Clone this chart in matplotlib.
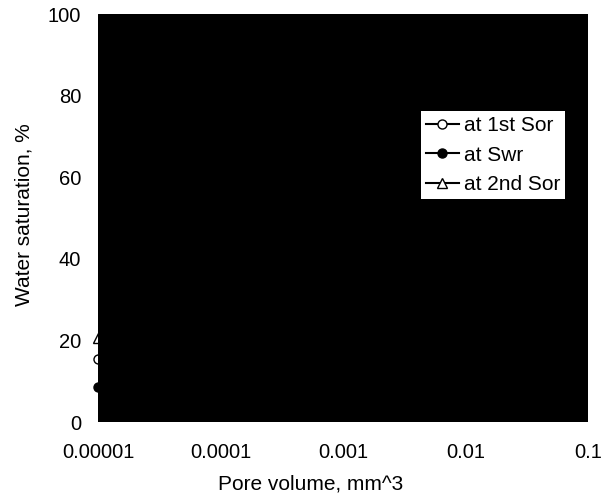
import matplotlib.pyplot as plt
from matplotlib.ticker import FixedLocator, NullLocator

plt.rcParams['font.family'] = ['Liberation Sans', 'DejaVu Sans']

# data: each series only has a point at the left edge of the axis
pore_volume = [1e-5]
sw_1st_sor = [15.5]
sw_swr = [8.5]
sw_2nd_sor = [20.5]

xticks = [1e-5, 1e-4, 1e-3, 1e-2, 1e-1]
xtick_labels = ['0.00001', '0.0001', '0.001', '0.01', '0.1']
yticks = [0, 20, 40, 60, 80, 100]

fig = plt.figure(figsize=(6.14, 5.01), dpi=100)
ax = fig.add_axes([98 / 614, 1 - 422 / 501, 490 / 614, 408 / 501])

ax.plot(pore_volume, sw_1st_sor, '-o', color='black', mfc='white', mec='black',
        ms=6.5, lw=1.5, label='at 1st Sor', clip_on=False, zorder=2)
ax.plot(pore_volume, sw_swr, '-o', color='black', mfc='black', mec='black',
        ms=6.5, lw=1.5, label='at Swr', clip_on=False, zorder=2)
ax.plot(pore_volume, sw_2nd_sor, '-^', color='black', mfc='white', mec='black',
        ms=7, lw=1.5, label='at 2nd Sor', clip_on=False, zorder=2)

ax.set_xscale('log')
ax.set_xlim(1e-5, 1e-1)
ax.set_ylim(0, 100)

# the plot area is completely filled black
ax.axvspan(1e-5, 1e-1, color='black', zorder=3)

ax.xaxis.set_major_locator(FixedLocator(xticks))
ax.xaxis.set_minor_locator(NullLocator())
ax.set_xticklabels(xtick_labels)
ax.set_yticks(yticks)
ax.tick_params(axis='x', length=0, pad=15, labelsize=14.5)
ax.tick_params(axis='y', length=0, pad=12, labelsize=14.5)
for s in ax.spines.values():
    s.set_visible(False)

ax.set_xlabel('Pore volume, mm^3', fontsize=15, va='top')
ax.xaxis.set_label_coords((311 - 98) / 490, -(474 - 422) / 408)
ax.set_ylabel('Water saturation, %', fontsize=15, va='center')
ax.yaxis.set_label_coords((24 - 98) / 490, (422 - 215) / 408)

leg = ax.legend(loc='upper left', bbox_to_anchor=(421 / 614, 1 - 111 / 501),
                bbox_transform=fig.transFigure, borderaxespad=0, fontsize=15,
                frameon=True, fancybox=False, framealpha=1, facecolor='white',
                edgecolor='none', handlelength=1.55, handletextpad=0.25,
                borderpad=0.25, labelspacing=0.5)
leg.set_zorder(5)

fig.savefig('out.png', dpi=100)
